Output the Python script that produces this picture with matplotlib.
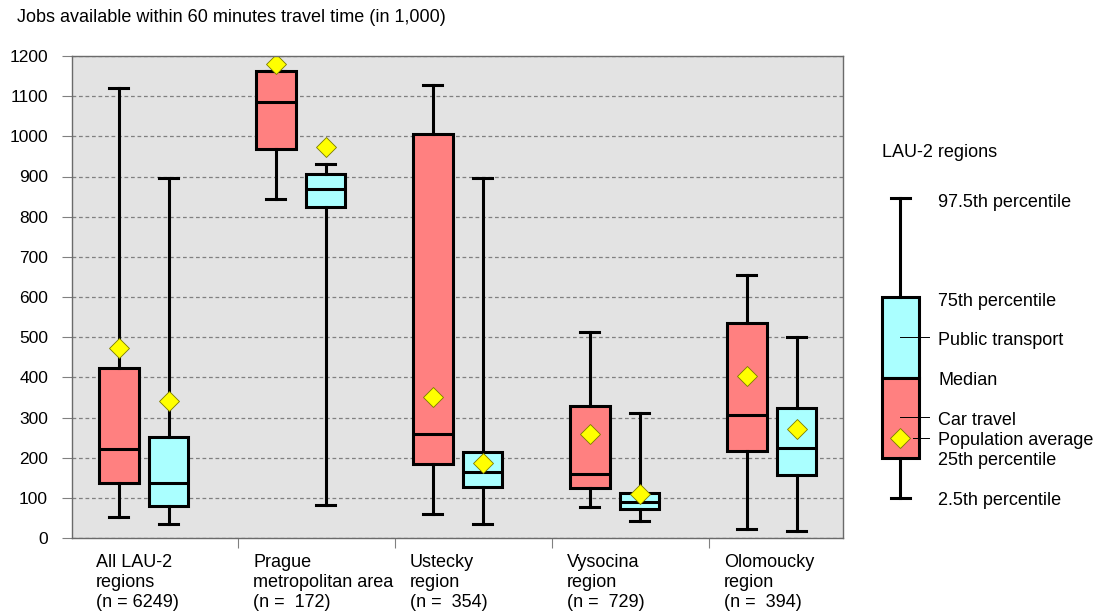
import numpy as np
import matplotlib
matplotlib.use("Agg")
import matplotlib.pyplot as plt
from matplotlib.patches import Rectangle

plt.rcParams['font.family'] = ['Liberation Sans', 'DejaVu Sans']

# jobs reachable within 60 min (thousands), per region
regions = ["All LAU-2\nregions\n(n = 6249)",
           "Prague\nmetropolitan area\n(n =  172)",
           "Ustecky\nregion\n(n =  354)",
           "Vysocina\nregion\n(n =  729)",
           "Olomoucky\nregion\n(n =  394)"]

car_p025 = [52, 843, 60, 78, 22]
car_q1 = [137, 968, 183, 125, 216]
car_med = [221, 1085, 260, 160, 306]
car_q3 = [424, 1163, 1006, 329, 535]
car_p975 = [1120, 1163, 1128, 514, 655]
car_mean = [472, 1179, 350, 259, 403]

pt_p025 = [35, 82, 35, 43, 17]
pt_q1 = [80, 825, 128, 72, 157]
pt_med = [136, 869, 165, 90, 223]
pt_q3 = [251, 905, 214, 112, 324]
pt_p975 = [896, 931, 896, 310, 500]
pt_mean = [342, 974, 186, 110, 271]

yticks = list(range(0, 1300, 100))

CAR = '#ff8080'
PT = '#aaffff'
YEL = '#ffff00'
GRID = '#808080'


def make_stats(lo, q1, med, q3, hi, mean):
    return [dict(whislo=a, q1=b, med=c, q3=d, whishi=e, mean=f, fliers=[])
            for a, b, c, d, e, f in zip(lo, q1, med, q3, hi, mean)]


W, H = 1099, 616
fig = plt.figure(figsize=(W / 100, H / 100), dpi=100)
ax = fig.add_axes([72 / W, 1 - 538 / H, 771 / W, 482 / H])
ax.set_facecolor('#e3e3e3')

pos = np.arange(len(regions))
off, bw, cw = 0.158, 0.252, 0.121
lw = 2.2
diamond = dict(marker='D', markerfacecolor=YEL, markeredgecolor='#7a7a00',
               markeredgewidth=0.6, markersize=10)

for stats, p, col in [(make_stats(car_p025, car_q1, car_med, car_q3, car_p975, car_mean), pos - off, CAR),
                      (make_stats(pt_p025, pt_q1, pt_med, pt_q3, pt_p975, pt_mean), pos + off, PT)]:
    ax.bxp(stats, positions=p, widths=bw, capwidths=cw, patch_artist=True,
           showmeans=True, showfliers=False, manage_ticks=False,
           boxprops=dict(facecolor=col, edgecolor='black', linewidth=lw),
           medianprops=dict(color='black', linewidth=lw),
           whiskerprops=dict(color='black', linewidth=lw),
           capprops=dict(color='black', linewidth=lw),
           meanprops=diamond)

ax.set_xlim(-0.457, 4.454)
ax.set_ylim(0, 1200)
ax.set_yticks(yticks)
ax.set_axisbelow(True)
ax.yaxis.grid(True, color=GRID, linestyle=(0, (3, 2.2)), linewidth=0.9)
ax.tick_params(axis='y', direction='out', length=7.2, width=0.8, color=GRID,
               labelsize=12.5, pad=10)
ax.set_xticks(pos[:-1] + 0.6)
ax.set_xticklabels([])
ax.tick_params(axis='x', direction='out', length=7.2, width=0.8, color=GRID)
for s in ax.spines.values():
    s.set_color('#6a6a6a')
    s.set_linewidth(1)

for i, lab in enumerate(regions):
    ax.text(i - 0.304, -0.034, lab, transform=ax.get_xaxis_transform(),
            ha='left', va='top', fontsize=13, linespacing=1.22)

fig.text(17 / W, 1 - 22 / H, "Jobs available within 60 minutes travel time (in 1,000)",
         ha='left', va='baseline', fontsize=13)

# key drawn in pixel space on the right
lg = fig.add_axes([0, 0, 1, 1])
lg.set_xlim(0, W)
lg.set_ylim(H, 0)
lg.axis('off')
cx, bx0, bx1 = 900, 881.7, 919
lg.plot([cx, cx], [198, 296.7], color='black', lw=lw)
lg.plot([cx, cx], [457.7, 498.3], color='black', lw=lw)
lg.plot([890.5, 909.5], [198, 198], color='black', lw=lw)
lg.plot([890.5, 909.5], [498.3, 498.3], color='black', lw=lw)
lg.add_patch(Rectangle((bx0, 296.7), bx1 - bx0, 81.6, facecolor=PT, edgecolor='black', lw=lw))
lg.add_patch(Rectangle((bx0, 378.3), bx1 - bx0, 79.4, facecolor=CAR, edgecolor='black', lw=lw))
lg.plot([cx, 929], [336.7, 336.7], color='black', lw=0.7)
lg.plot([cx, 929], [416.7, 416.7], color='black', lw=0.7)
lg.plot([913, 929], [438.3, 438.3], color='black', lw=0.7)
lg.plot([cx], [438.3], **diamond)

lg.text(882, 156.7, "LAU-2 regions", ha='left', va='baseline', fontsize=13)
key = [("97.5th percentile", 206.7), ("75th percentile", 305.7),
       ("Public transport", 345), ("Median", 385), ("Car travel", 425),
       ("Population average", 445), ("25th percentile", 465),
       ("2.5th percentile", 505)]
for txt, yb in key:
    lg.text(938, yb, txt, ha='left', va='baseline', fontsize=13)

fig.savefig('out.png', dpi=100)
